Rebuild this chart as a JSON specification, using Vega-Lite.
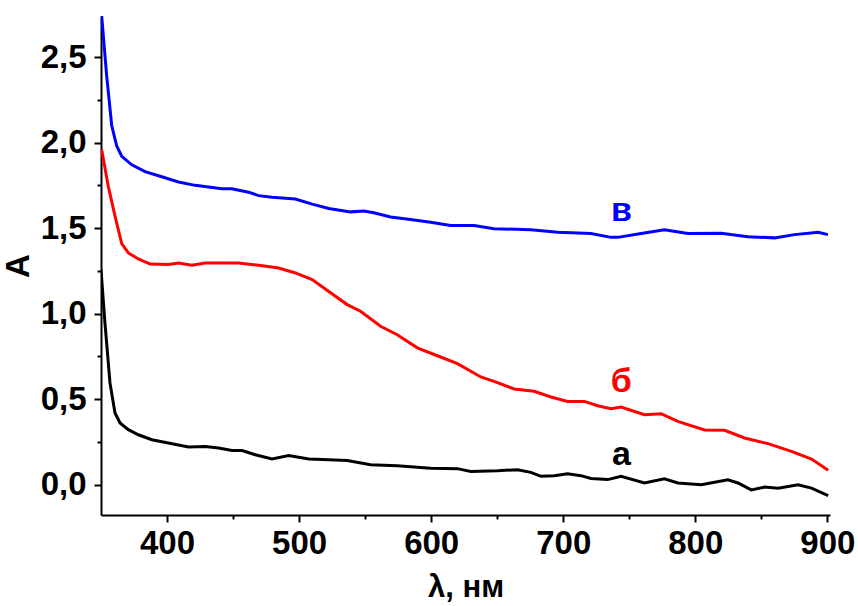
{
  "$schema": "https://vega.github.io/schema/vega-lite/v6.json",
  "width": 729,
  "height": 499,
  "autosize": {"type": "none"},
  "padding": {"left": 101, "top": 16, "right": 28, "bottom": 91},
  "background": "white",
  "config": {
    "view": {"stroke": null},
    "font": "Liberation Sans"
  },
  "datasets": {
    "curves": [
      {"x": 350.5, "y": 2.74, "s": "в"}, {"x": 354.3, "y": 2.39, "s": "в"}, {"x": 358.1, "y": 2.10, "s": "в"}, {"x": 361.9, "y": 1.98, "s": "в"}, {"x": 365.7, "y": 1.92, "s": "в"}, {"x": 373.3, "y": 1.87, "s": "в"}, {"x": 383.4, "y": 1.83, "s": "в"}, {"x": 396, "y": 1.80, "s": "в"}, {"x": 408.7, "y": 1.77, "s": "в"}, {"x": 421.3, "y": 1.75, "s": "в"}, {"x": 441.6, "y": 1.73, "s": "в"}, {"x": 449, "y": 1.73, "s": "в"}, {"x": 461.8, "y": 1.71, "s": "в"}, {"x": 469.4, "y": 1.69, "s": "в"}, {"x": 479.5, "y": 1.68, "s": "в"}, {"x": 497.2, "y": 1.67, "s": "в"}, {"x": 509.9, "y": 1.64, "s": "в"}, {"x": 522.5, "y": 1.615, "s": "в"}, {"x": 538.9, "y": 1.595, "s": "в"}, {"x": 549, "y": 1.60, "s": "в"}, {"x": 556.6, "y": 1.59, "s": "в"}, {"x": 569.3, "y": 1.565, "s": "в"}, {"x": 584.4, "y": 1.55, "s": "в"}, {"x": 599.6, "y": 1.534, "s": "в"}, {"x": 614.8, "y": 1.516, "s": "в"}, {"x": 632.5, "y": 1.515, "s": "в"}, {"x": 647.6, "y": 1.497, "s": "в"}, {"x": 675.5, "y": 1.49, "s": "в"}, {"x": 695.8, "y": 1.476, "s": "в"}, {"x": 721, "y": 1.468, "s": "в"}, {"x": 736.2, "y": 1.446, "s": "в"}, {"x": 741.2, "y": 1.446, "s": "в"}, {"x": 759, "y": 1.468, "s": "в"}, {"x": 776.6, "y": 1.49, "s": "в"}, {"x": 794.4, "y": 1.468, "s": "в"}, {"x": 819.6, "y": 1.47, "s": "в"}, {"x": 839.9, "y": 1.45, "s": "в"}, {"x": 860, "y": 1.443, "s": "в"}, {"x": 875.2, "y": 1.462, "s": "в"}, {"x": 893, "y": 1.476, "s": "в"}, {"x": 900.5, "y": 1.462, "s": "в"},
      {"x": 350.5, "y": 1.96, "s": "б"}, {"x": 355.5, "y": 1.745, "s": "б"}, {"x": 360.6, "y": 1.57, "s": "б"}, {"x": 365.7, "y": 1.41, "s": "б"}, {"x": 370.7, "y": 1.355, "s": "б"}, {"x": 378.3, "y": 1.32, "s": "б"}, {"x": 387.2, "y": 1.29, "s": "б"}, {"x": 401, "y": 1.287, "s": "б"}, {"x": 408.7, "y": 1.296, "s": "б"}, {"x": 418.8, "y": 1.283, "s": "б"}, {"x": 428.9, "y": 1.296, "s": "б"}, {"x": 441.6, "y": 1.296, "s": "б"}, {"x": 454.2, "y": 1.296, "s": "б"}, {"x": 469.4, "y": 1.283, "s": "б"}, {"x": 484.5, "y": 1.267, "s": "б"}, {"x": 497.2, "y": 1.238, "s": "б"}, {"x": 509.9, "y": 1.199, "s": "б"}, {"x": 522.5, "y": 1.13, "s": "б"}, {"x": 536.4, "y": 1.053, "s": "б"}, {"x": 546.5, "y": 1.014, "s": "б"}, {"x": 561.7, "y": 0.926, "s": "б"}, {"x": 574.3, "y": 0.877, "s": "б"}, {"x": 589.5, "y": 0.80, "s": "б"}, {"x": 604.7, "y": 0.754, "s": "б"}, {"x": 619.9, "y": 0.708, "s": "б"}, {"x": 637.6, "y": 0.63, "s": "б"}, {"x": 647.6, "y": 0.604, "s": "б"}, {"x": 662.8, "y": 0.56, "s": "б"}, {"x": 678, "y": 0.546, "s": "б"}, {"x": 690.7, "y": 0.513, "s": "б"}, {"x": 703.3, "y": 0.487, "s": "б"}, {"x": 716, "y": 0.487, "s": "б"}, {"x": 726.1, "y": 0.462, "s": "б"}, {"x": 736.2, "y": 0.444, "s": "б"}, {"x": 743.8, "y": 0.454, "s": "б"}, {"x": 761.5, "y": 0.409, "s": "б"}, {"x": 774.1, "y": 0.415, "s": "б"}, {"x": 786.8, "y": 0.37, "s": "б"}, {"x": 807, "y": 0.32, "s": "б"}, {"x": 822.2, "y": 0.318, "s": "б"}, {"x": 837.3, "y": 0.273, "s": "б"}, {"x": 855.1, "y": 0.24, "s": "б"}, {"x": 872.8, "y": 0.195, "s": "б"}, {"x": 888, "y": 0.15, "s": "б"}, {"x": 900.6, "y": 0.084, "s": "б"},
      {"x": 350, "y": 1.257, "s": "а"}, {"x": 353, "y": 0.945, "s": "а"}, {"x": 356.8, "y": 0.595, "s": "а"}, {"x": 360.6, "y": 0.419, "s": "а"}, {"x": 364.4, "y": 0.361, "s": "а"}, {"x": 370.7, "y": 0.322, "s": "а"}, {"x": 378.3, "y": 0.292, "s": "а"}, {"x": 388.5, "y": 0.263, "s": "а"}, {"x": 401, "y": 0.244, "s": "а"}, {"x": 416.2, "y": 0.22, "s": "а"}, {"x": 428.9, "y": 0.224, "s": "а"}, {"x": 439, "y": 0.215, "s": "а"}, {"x": 449.2, "y": 0.20, "s": "а"}, {"x": 456.8, "y": 0.20, "s": "а"}, {"x": 466.8, "y": 0.175, "s": "а"}, {"x": 479.5, "y": 0.15, "s": "а"}, {"x": 492.1, "y": 0.17, "s": "а"}, {"x": 507.3, "y": 0.15, "s": "а"}, {"x": 522.5, "y": 0.146, "s": "а"}, {"x": 536.4, "y": 0.142, "s": "а"}, {"x": 554.1, "y": 0.117, "s": "а"}, {"x": 574.3, "y": 0.111, "s": "а"}, {"x": 599.6, "y": 0.097, "s": "а"}, {"x": 619.9, "y": 0.094, "s": "а"}, {"x": 630, "y": 0.078, "s": "а"}, {"x": 650.2, "y": 0.082, "s": "а"}, {"x": 665.4, "y": 0.088, "s": "а"}, {"x": 675.5, "y": 0.072, "s": "а"}, {"x": 683.1, "y": 0.049, "s": "а"}, {"x": 693.2, "y": 0.053, "s": "а"}, {"x": 703.3, "y": 0.064, "s": "а"}, {"x": 713.4, "y": 0.053, "s": "а"}, {"x": 721, "y": 0.036, "s": "а"}, {"x": 733.7, "y": 0.03, "s": "а"}, {"x": 743.8, "y": 0.049, "s": "а"}, {"x": 761.5, "y": 0.01, "s": "а"}, {"x": 776.6, "y": 0.035, "s": "а"}, {"x": 786.8, "y": 0.01, "s": "а"}, {"x": 804.5, "y": 0.0, "s": "а"}, {"x": 824.7, "y": 0.029, "s": "а"}, {"x": 832.3, "y": 0.01, "s": "а"}, {"x": 842.4, "y": -0.03, "s": "а"}, {"x": 852.5, "y": -0.014, "s": "а"}, {"x": 862.7, "y": -0.02, "s": "а"}, {"x": 877.8, "y": 0.0, "s": "а"}, {"x": 888, "y": -0.02, "s": "а"}, {"x": 900.6, "y": -0.064, "s": "а"}
    ],
    "labels": [
      {"x": 744, "y": 1.60, "s": "в"},
      {"x": 744, "y": 0.60, "s": "б"},
      {"x": 744, "y": 0.175, "s": "а"}
    ]
  },
  "encoding": {
    "x": {
      "field": "x", "type": "quantitative",
      "scale": {"domain": [350, 902], "nice": false, "zero": false},
      "axis": {
        "title": "λ, нм",
        "values": [400, 450, 500, 550, 600, 650, 700, 750, 800, 850, 900],
        "labelExpr": "datum.value % 100 == 0 ? datum.value : ''",
        "grid": false,
        "domainColor": "black", "domainWidth": 2,
        "tickColor": "black", "tickWidth": 2,
        "tickSize": {"condition": {"test": "datum.value % 100 == 0", "value": 7}, "value": 4},
        "labelFont": "Liberation Sans", "labelFontSize": 33, "labelFontWeight": "bold", "labelColor": "black",
        "labelPadding": 5, "labelFlush": false, "labelOverlap": false,
        "titleFont": "Liberation Sans", "titleFontSize": 31, "titleFontWeight": "bold", "titleColor": "black",
        "titlePadding": 12
      }
    },
    "y": {
      "field": "y", "type": "quantitative",
      "scale": {"domain": [-0.177, 2.74], "nice": false, "zero": false},
      "axis": {
        "title": "A",
        "values": [0, 0.25, 0.5, 0.75, 1, 1.25, 1.5, 1.75, 2, 2.25, 2.5],
        "labelExpr": "abs(datum.value*2 - round(datum.value*2)) < 0.01 ? replace(format(datum.value, '.1f'), '.', ',') : ''",
        "grid": false,
        "domainColor": "black", "domainWidth": 2,
        "tickColor": "black", "tickWidth": 2,
        "tickSize": {"condition": {"test": "abs(datum.value*2 - round(datum.value*2)) < 0.01", "value": 7}, "value": 4},
        "labelFont": "Liberation Sans", "labelFontSize": 33, "labelFontWeight": "bold", "labelColor": "black",
        "labelPadding": 8, "labelFlush": false, "labelOverlap": false,
        "titleFont": "Liberation Sans", "titleFontSize": 33, "titleFontWeight": "bold", "titleColor": "black",
        "titlePadding": 5
      }
    },
    "color": {
      "field": "s", "type": "nominal",
      "scale": {"domain": ["а", "б", "в"], "range": ["#000000", "#ff0000", "#0000ff"]},
      "legend": null
    }
  },
  "layer": [
    {
      "data": {"name": "curves"},
      "mark": {"type": "line", "strokeWidth": 3, "clip": true}
    },
    {
      "data": {"name": "labels"},
      "mark": {"type": "text", "font": "Liberation Sans", "fontSize": 34, "fontWeight": "bold", "align": "center", "baseline": "middle"},
      "encoding": {"text": {"field": "s"}}
    }
  ]
}
